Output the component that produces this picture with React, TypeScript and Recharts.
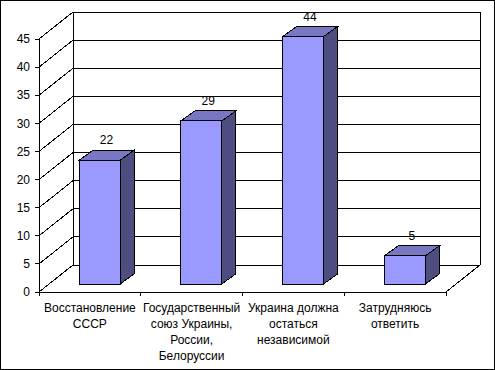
import { BarChart, Bar, XAxis, YAxis, CartesianGrid, ReferenceArea, LabelList } from 'recharts';

// survey answers, lines split where the original label wraps
const categories = [
  'Восстановление\nСССР',
  'Государственный\nсоюз Украины,\nРоссии,\nБелоруссии',
  'Украина должна\nостаться\nнезависимой',
  'Затрудняюсь\nответить',
];
const values = [22, 29, 44, 5];
const yTicks = [0, 5, 10, 15, 20, 25, 30, 35, 40, 45];

const data = categories.map((name, i) => ({ name, value: values[i] }));

const FONT = '"Liberation Sans", Arial, sans-serif';

// fake 3D depth of the plot (back wall offset) and of each box
const WALL_DX = 34;
const WALL_DY = 27;
const FRONT_DX = 10;
const FRONT_DY = 8;
const BOX_DX = 14;
const BOX_DY = 10;

const FRONT_COLOR = '#9999FF';
const TOP_COLOR = '#7777C2';
const SIDE_COLOR = '#4D4D80';

const Box3D = (props: any) => {
  const { x, y, width, height } = props;
  if (height == null || width == null) return null;
  const fx = x + FRONT_DX;
  const fy = y - FRONT_DY;
  const w = width;
  const h = height;
  const top = `${fx},${fy} ${fx + BOX_DX},${fy - BOX_DY} ${fx + w + BOX_DX},${fy - BOX_DY} ${fx + w},${fy}`;
  const side = `${fx + w},${fy} ${fx + w + BOX_DX},${fy - BOX_DY} ${fx + w + BOX_DX},${fy + h - BOX_DY} ${fx + w},${fy + h}`;
  return (
    <g>
      <polygon points={top} fill={TOP_COLOR} stroke="#000" strokeWidth={1} />
      <polygon points={side} fill={SIDE_COLOR} stroke="#000" strokeWidth={1} />
      <rect x={fx} y={fy} width={w} height={h} fill={FRONT_COLOR} stroke="#000" strokeWidth={1} />
    </g>
  );
};

// each horizontal gridline becomes a diagonal on the left wall + a line on the back wall
const gridLine = (p: any) => {
  const { x1, y1, x2 } = p;
  return (
    <g key={p.key}>
      <line x1={x1} y1={y1} x2={x1 + WALL_DX} y2={y1 - WALL_DY} stroke="#000" />
      <line x1={x1 + WALL_DX} y1={y1 - WALL_DY} x2={x2 + WALL_DX} y2={y1 - WALL_DY} stroke="#000" />
    </g>
  );
};

const Walls = (props: any) => {
  const { x, y, width, height } = props;
  const bx = x + WALL_DX;
  const rx = x + width + WALL_DX;
  return (
    <g>
      <line x1={bx} y1={y - WALL_DY} x2={bx} y2={y + height - WALL_DY} stroke="#000" />
      <line x1={rx} y1={y - WALL_DY} x2={rx} y2={y + height - WALL_DY} stroke="#000" />
      <line x1={x + width} y1={y + height} x2={rx} y2={y + height - WALL_DY} stroke="#000" />
    </g>
  );
};

const CategoryTick = (props: any) => {
  const { x, y, payload, index } = props;
  const half = payload && payload.offset ? payload.offset : 50.9;
  const lines = String(payload.value).split('\n');
  return (
    <g>
      <line x1={x - half} y1={y} x2={x - half} y2={y + 4} stroke="#000" />
      {index === categories.length - 1 && (
        <line x1={x + half} y1={y} x2={x + half} y2={y + 4} stroke="#000" />
      )}
      <text x={x} y={y} textAnchor="middle" fontSize={12} fontFamily={FONT} fill="#000">
        {lines.map((line, i) => (
          <tspan key={i} x={x} y={y + 20 + i * 16}>
            {line}
          </tspan>
        ))}
      </text>
    </g>
  );
};

const ValueLabel = (props: any) => {
  const { x, y, width, value } = props;
  return (
    <text
      x={x + width / 2 + FRONT_DX + BOX_DX / 2}
      y={y - FRONT_DY - 16}
      textAnchor="middle"
      fontSize={12}
      fontFamily={FONT}
      fill="#000"
    >
      {value}
    </text>
  );
};

export default function App() {
  return (
    <div style={{ position: 'absolute', left: 0, top: 0, width: 495, height: 370, background: '#fff' }}>
      <BarChart
        width={495}
        height={370}
        data={data}
        margin={{ top: 39, right: 49, left: 0, bottom: 0 }}
        style={{ fontFamily: FONT, shapeRendering: 'crispEdges' }}
      >
        <CartesianGrid horizontal={gridLine} vertical={false} />
        <XAxis
          dataKey="name"
          height={78}
          interval={0}
          tickLine={false}
          tickSize={0}
          tickMargin={0}
          axisLine={{ stroke: '#000' }}
          tick={<CategoryTick />}
        />
        <YAxis
          width={39}
          domain={[0, 45]}
          ticks={yTicks}
          interval={0}
          tickSize={4}
          tickMargin={5}
          axisLine={{ stroke: '#000' }}
          tickLine={{ stroke: '#000' }}
          tick={{ fill: '#000', fontSize: 12, fontFamily: FONT }}
        />
        <ReferenceArea y1={0} y2={45} shape={<Walls />} />
        <Bar dataKey="value" barSize={41} shape={<Box3D />} isAnimationActive={false}>
          <LabelList dataKey="value" content={<ValueLabel />} />
        </Bar>
      </BarChart>
      <div
        style={{
          position: 'absolute',
          left: 0,
          top: 0,
          width: 495,
          height: 370,
          boxSizing: 'border-box',
          border: '1px solid #000',
          pointerEvents: 'none',
        }}
      />
    </div>
  );
}
